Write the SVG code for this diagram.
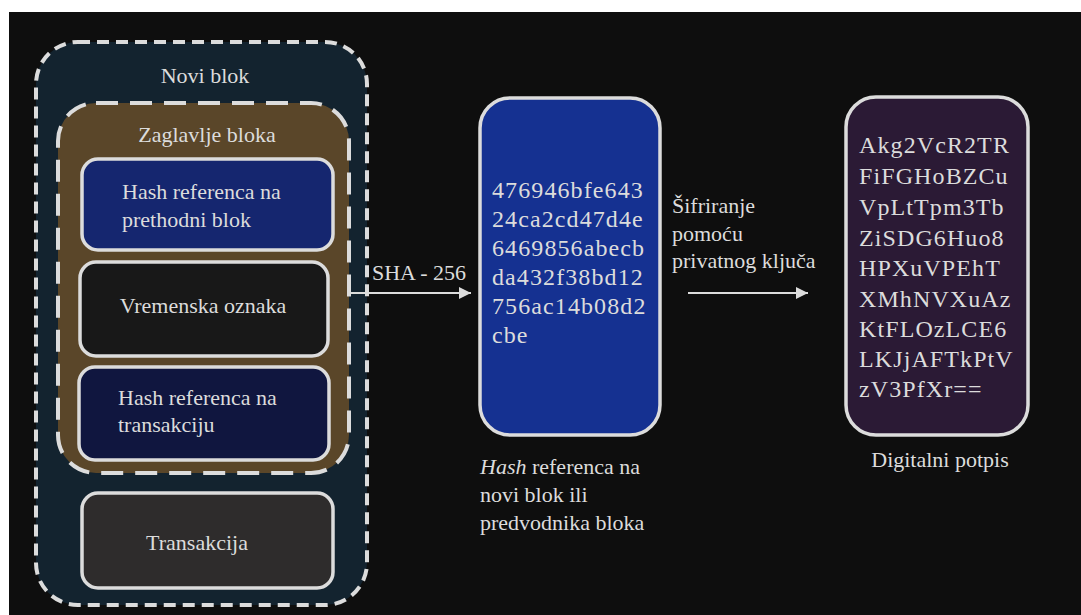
<svg xmlns="http://www.w3.org/2000/svg" width="1081" height="615" viewBox="0 0 1081 615">
<style>
text{font-family:'Liberation Serif','Times New Roman',serif;fill:#dcdcdc;font-size:22px}
.mid{text-anchor:middle}
.code{font-size:24px;letter-spacing:1.1px}
.box{stroke:#dcdcdc;stroke-width:3.5}
.conn{stroke:#dcdcdc;stroke-width:2;fill:none}
</style>
<defs>
<marker id="ah" viewBox="0 0 10 10" refX="10" refY="5" markerWidth="6" markerHeight="6" orient="auto" markerUnits="strokeWidth">
<path d="M0,0 L10,5 L0,10 z" fill="#dcdcdc"/>
</marker>
</defs>
<rect x="0" y="0" width="1081" height="615" fill="#ffffff"/>
<rect x="9" y="12" width="1072" height="603" fill="#0e0e0e"/>
<g id="novi-blok">
<rect x="36" y="42" width="331" height="563" rx="42" fill="#13232f" stroke="#dcdcdc" stroke-width="4" stroke-dasharray="12 7"/>
<text x="205" y="83" class="mid">Novi blok</text>
</g>
<g id="zaglavlje-bloka">
<rect x="58" y="103" width="291" height="370" rx="38" fill="#5a4629" stroke="#dcdcdc" stroke-width="4" stroke-dasharray="22 12"/>
<text x="207" y="142" class="mid">Zaglavlje bloka</text>
</g>
<g id="hash-prethodni">
<rect x="82" y="159" width="251" height="91" rx="16" fill="#15266f" class="box"/>
<text x="122" y="199">Hash referenca na</text>
<text x="122" y="227">prethodni blok</text>
</g>
<g id="vremenska-oznaka">
<rect x="80" y="262" width="248" height="94" rx="16" fill="#181818" class="box"/>
<text x="203" y="313" class="mid">Vremenska oznaka</text>
</g>
<g id="hash-transakcija">
<rect x="79" y="367" width="250" height="93" rx="16" fill="#10163f" class="box"/>
<text x="118" y="405">Hash referenca na</text>
<text x="118" y="432">transakciju</text>
</g>
<g id="transakcija">
<rect x="82" y="493" width="251" height="95" rx="16" fill="#2e2c2c" class="box"/>
<text x="197" y="550" class="mid">Transakcija</text>
</g>
<g id="hash-novi-blok">
<rect x="480" y="98" width="180" height="337" rx="30" fill="#153191" class="box"/>
<text x="492" y="198" class="code">476946bfe643</text>
<text x="492" y="227" class="code">24ca2cd47d4e</text>
<text x="492" y="256" class="code">6469856abecb</text>
<text x="492" y="285" class="code">da432f38bd12</text>
<text x="492" y="314" class="code">756ac14b08d2</text>
<text x="492" y="343" class="code">cbe</text>
<text x="480" y="474"><tspan font-style="italic">Hash</tspan> referenca na</text>
<text x="480" y="502">novi blok ili</text>
<text x="480" y="530">predvodnika bloka</text>
</g>
<g id="digitalni-potpis">
<rect x="846" y="97" width="182" height="338" rx="30" fill="#2b1a35" class="box"/>
<text x="859" y="153" class="code">Akg2VcR2TR</text>
<text x="859" y="184" class="code">FiFGHoBZCu</text>
<text x="859" y="215" class="code">VpLtTpm3Tb</text>
<text x="859" y="246" class="code">ZiSDG6Huo8</text>
<text x="859" y="276" class="code">HPXuVPEhT</text>
<text x="859" y="307" class="code">XMhNVXuAz</text>
<text x="859" y="337" class="code">KtFLOzLCE6</text>
<text x="859" y="367" class="code">LKJjAFTkPtV</text>
<text x="859" y="397" class="code">zV3PfXr==</text>
<text x="940" y="467" class="mid">Digitalni potpis</text>
</g>
<g id="connectors">
<line x1="350" y1="293" x2="471" y2="293" class="conn" marker-end="url(#ah)"/>
<text x="372" y="280">SHA - 256</text>
<line x1="688" y1="293" x2="808" y2="293" class="conn" marker-end="url(#ah)"/>
<text x="672" y="213">Šifriranje</text>
<text x="672" y="241">pomoću</text>
<text x="672" y="268">privatnog ključa</text>
</g>
</svg>
